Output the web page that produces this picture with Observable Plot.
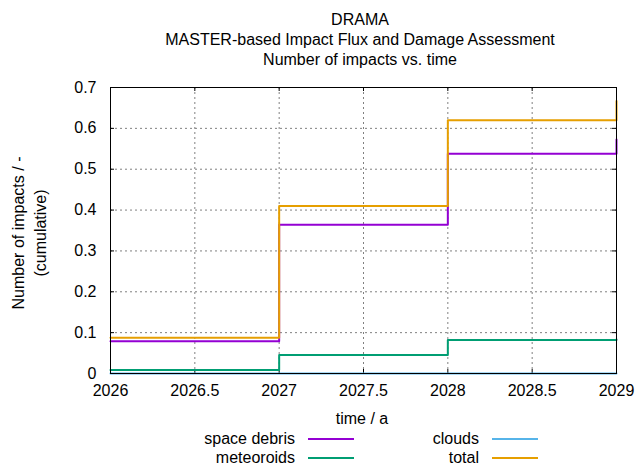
<!DOCTYPE html>
<html><head><meta charset="utf-8">
<script src="https://cdn.jsdelivr.net/npm/d3@7"></script>
<script src="https://cdn.jsdelivr.net/npm/@observablehq/plot@0.6"></script>
<style>
html,body{margin:0;padding:0;background:#fff;}
#wrap{position:relative;width:638px;height:465px;overflow:hidden;font-family:"Liberation Sans",Arial,sans-serif;font-size:16px;color:#000;}
.t{position:absolute;white-space:nowrap;line-height:1;}
.sw{position:absolute;height:2px;}
#wrap svg{position:absolute;left:0;top:0;}
</style></head><body><div id="wrap"></div>
<script>
// ---- data ----
const years = [2026, 2027, 2028, 2029];
const spaceDebris = [0.079, 0.364, 0.538, 0.573];
const meteoroids = [0.0086, 0.045, 0.082, 0.083];
const clouds = [0, 0, 0, 0];
const total = [0.0876, 0.410, 0.620, 0.667];
const seriesNames = ["space debris", "meteoroids", "clouds", "total"];
const seriesColors = ["#9400d3", "#009e73", "#56b4e9", "#e69f00"];
const xTicks = [2026, 2026.5, 2027, 2027.5, 2028, 2028.5, 2029];
const xTickLabels = ["2026", "2026.5", "2027", "2027.5", "2028", "2028.5", "2029"];
const yTicks = [0, 0.1, 0.2, 0.3, 0.4, 0.5, 0.6, 0.7];
const yTickLabels = ["0", "0.1", "0.2", "0.3", "0.4", "0.5", "0.6", "0.7"];
const titleLines = ["DRAMA", "MASTER-based Impact Flux and Damage Assessment", "Number of impacts vs. time"];
const xLabel = "time / a";
const yLabelLines = ["Number of impacts / -", "(cumulative)"];

// ---- build table ----
const seriesValues = [spaceDebris, meteoroids, clouds, total];
const rows = [];
seriesNames.forEach((name, s) => years.forEach((yr, i) => rows.push({series: name, year: yr, value: seriesValues[s][i]})));

const W = 638, H = 465, mL = 110, mR = 22, mT = 87, mB = 92;
const fw = W - mL - mR, fh = H - mT - mB, tk = 4;
const grid = {stroke: "#808080", strokeOpacity: 1, strokeDasharray: "2,3", strokeWidth: 1};

const plot = Plot.plot({
  width: W, height: H,
  marginLeft: mL, marginRight: mR, marginTop: mT, marginBottom: mB,
  style: {fontFamily: '"Liberation Sans", Arial, sans-serif', fontSize: "16px", color: "black", background: "transparent"},
  x: {domain: [2026, 2029]},
  y: {domain: [0, 0.7]},
  color: {domain: seriesNames, range: seriesColors},
  marks: [
    Plot.gridX(xTicks, grid),
    Plot.gridY(yTicks, grid),
    Plot.tickX(xTicks, {x: d => d, stroke: "black", insetTop: fh - tk}),
    Plot.tickX(xTicks, {x: d => d, stroke: "black", insetBottom: fh - tk}),
    Plot.tickY(yTicks, {y: d => d, stroke: "black", insetRight: fw - tk}),
    Plot.tickY(yTicks, {y: d => d, stroke: "black", insetLeft: fw - tk}),
    Plot.axisX({ticks: xTicks, tickSize: 0, tickPadding: 11, tickFormat: d => xTickLabels[xTicks.indexOf(d)], label: null, fontSize: 16}),
    Plot.axisY({ticks: yTicks, tickSize: 0, tickPadding: 14, tickFormat: d => yTickLabels[yTicks.indexOf(d)], label: null, fontSize: 16}),
    Plot.lineY(rows, {x: "year", y: "value", z: "series", stroke: "series", curve: "step-after", strokeWidth: 2}),
    Plot.frame({stroke: "black", strokeWidth: 1})
  ]
});

const wrap = document.getElementById("wrap");
wrap.appendChild(plot);

function label(text, x, y, opts = {}) {
  const d = document.createElement("div");
  d.className = "t";
  d.textContent = text;
  d.style.left = x + "px";
  d.style.top = y + "px";
  d.style.transform = opts.transform || "translate(-50%,-50%)";
  wrap.appendChild(d);
  return d;
}

// titles
const titleCX = 360;
titleLines.forEach((t, i) => label(t, titleCX, 19.5 + i * 20));
// axis labels
label(xLabel, 362, 419);
yLabelLines.forEach((t, i) => label(t, 19 + i * 22, 233, {transform: "translate(-50%,-50%) rotate(-90deg)"}));

// legend (two columns, filled column-wise)
const legCols = [{textRight: 295, lineX: 308}, {textRight: 479, lineX: 492}];
const legRows = [438.5, 457.5];
seriesNames.forEach((name, i) => {
  const c = legCols[Math.floor(i / 2)], r = legRows[i % 2];
  label(name, c.textRight, r, {transform: "translate(-100%,-50%)"});
  const sw = document.createElement("div");
  sw.className = "sw";
  sw.style.left = c.lineX + "px";
  sw.style.width = "46px";
  sw.style.top = Math.round(r - 1) + "px";
  sw.style.background = seriesColors[i];
  wrap.appendChild(sw);
});
</script></body></html>
